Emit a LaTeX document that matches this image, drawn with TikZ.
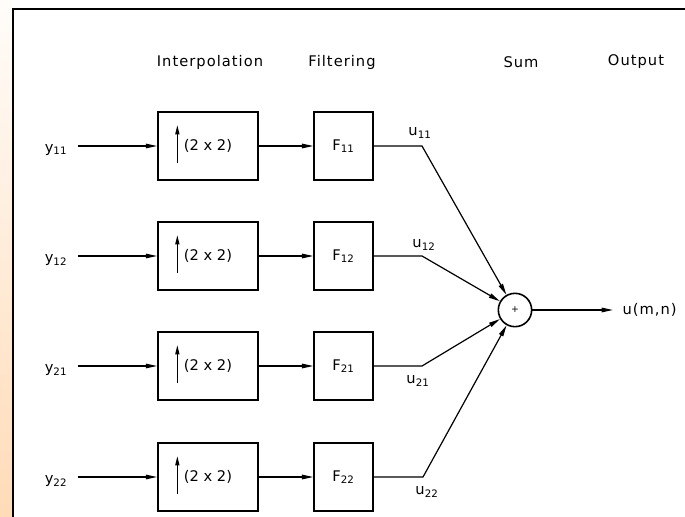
\documentclass[tikz,border=0pt]{standalone}
\usepackage{fontspec}
\setmainfont{DejaVu Sans}
\newfontfamily\headfont[LetterSpace=7]{DejaVu Sans}
\usetikzlibrary{arrows.meta}

\begin{document}
\begin{tikzpicture}[x=0.75pt, y=-0.75pt, font=\fontsize{11}{13}\selectfont,
  box/.style={draw=black, line width=1.3pt, minimum height=51pt, inner sep=2pt},
  interp/.style={box, minimum width=75pt},
  filt/.style={box, minimum width=44pt},
  sig/.style={-{Triangle[length=8.5pt,width=3.4pt]}, line width=0.9pt},
  uparr/.style={-{Triangle[length=7pt,width=3pt]}, line width=1pt},
  head/.style={font=\headfont\fontsize{11}{13}\selectfont},
  lbl/.style={inner sep=1pt},
]
\useasboundingbox (0,0) rectangle (685,517);
\shade[top color=orange!2, bottom color=orange!28] (0,0) rectangle (12,517);
\draw[line width=2pt] (13,517) -- (13,9) -- (685,9);

% column headings
\node[head] (hint) at (210,62) {Interpolation};
\node[head] (hflt) at (342,62) {Filtering};
\node[head] (hsum) at (521,62) {Sum};
\node[head] (hout) at (636,62) {Output};

% the four branches
\node[interp] (i11) at (208,146) {(2 x 2)};
\node[interp] (i12) at (208,256) {(2 x 2)};
\node[interp] (i21) at (208,366) {(2 x 2)};
\node[interp] (i22) at (208,477) {(2 x 2)};

\node[filt] (f11) at (343.5,146) {F\textsubscript{11}};
\node[filt] (f12) at (343.5,256) {F\textsubscript{12}};
\node[filt] (f21) at (343.5,366) {F\textsubscript{21}};
\node[filt] (f22) at (343.5,477) {F\textsubscript{22}};

% upsampling marks
\draw[uparr] ([xshift=-23pt,yshift=-12.75pt]i11.center) -- ++(0,-38);
\draw[uparr] ([xshift=-23pt,yshift=-12.75pt]i12.center) -- ++(0,-38);
\draw[uparr] ([xshift=-23pt,yshift=-12.75pt]i21.center) -- ++(0,-38);
\draw[uparr] ([xshift=-23pt,yshift=-12.75pt]i22.center) -- ++(0,-38);

% inputs
\node[lbl] (y11) at (56,150) {y\textsubscript{11}};
\node[lbl] (y12) at (56,260) {y\textsubscript{12}};
\node[lbl] (y21) at (56,370) {y\textsubscript{21}};
\node[lbl] (y22) at (56,481) {y\textsubscript{22}};
\coordinate (s11) at (78,146);
\coordinate (s12) at (78,256);
\coordinate (s21) at (78,366);
\coordinate (s22) at (78,477);

\draw[sig] (s11) -- (i11);
\draw[sig] (s12) -- (i12);
\draw[sig] (s21) -- (i21);
\draw[sig] (s22) -- (i22);

\draw[sig] (i11) -- (f11);
\draw[sig] (i12) -- (f12);
\draw[sig] (i21) -- (f21);
\draw[sig] (i22) -- (f22);

% summing point
\node[draw, circle, line width=1.2pt, minimum size=25pt, inner sep=0pt] (sum) at (515,310) {\scriptsize +};

\coordinate (c11) at (422,146);
\coordinate (c12) at (422,256);
\coordinate (c21) at (422,366);
\coordinate (c22) at (423,477);

\draw[sig] (f11) -- (c11) -- (sum);
\draw[sig] (f12) -- (c12) -- (sum);
\draw[sig] (f21) -- (c21) -- (sum);
\draw[sig] (f22) -- (c22) -- (sum);

\node[lbl] (u11) at (420,133) {u\textsubscript{11}};
\node[lbl] (u12) at (424,245) {u\textsubscript{12}};
\node[lbl] (u21) at (418,381) {u\textsubscript{21}};
\node[lbl] (u22) at (427,492) {u\textsubscript{22}};

% output
\node[head, anchor=west, inner ysep=1pt, inner xsep=7pt] (out) at (613,310) {u(m,n)};
\draw[sig] (sum) -- (out);
\end{tikzpicture}
\end{document}
